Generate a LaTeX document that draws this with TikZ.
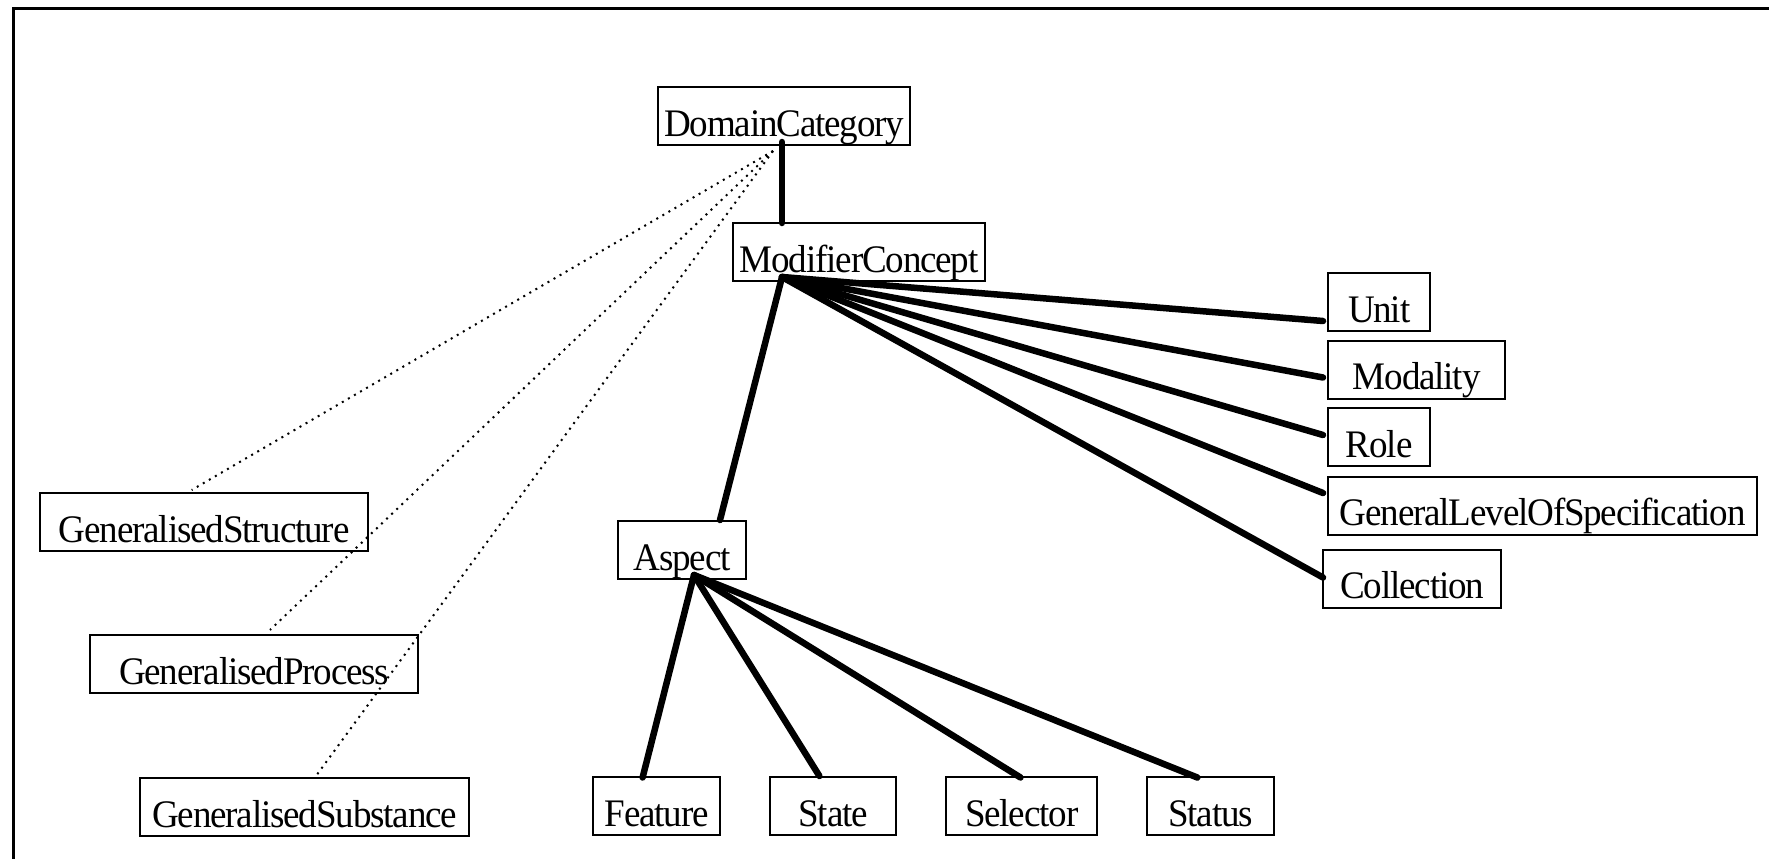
\documentclass[tikz,border=0pt]{standalone}
\usepackage{fontspec}
\setmainfont{Liberation Serif}[FakeStretch=0.95,LetterSpace=-3]
\usetikzlibrary{calc}
\begin{document}
\begin{tikzpicture}[x=1pt,y=-1pt,
  box/.style={draw,line width=2.4pt,inner sep=0pt,anchor=north west,
    minimum height=58pt,text height=49pt,text depth=9pt,
    font=\fontsize{39}{41}\selectfont},
  tree/.style={line width=6.5pt,line cap=round},
  dots/.style={line width=2pt,dash pattern=on 2pt off 5pt}]
\useasboundingbox (0,0) rectangle (1769,859);
\fill[white] (0,0) rectangle (1769,859);
% frame
\draw[line width=3pt] (13.5,870) -- (13.5,9) -- (1780,9);
% nodes
\node[box,minimum width=252pt] (dc) at (657,86) {DomainCategory};
\node[box,minimum width=252pt] (mc) at (732,222) {ModifierConcept};
\node[box,minimum width=102pt] (unit) at (1327,272) {Unit};
\node[box,minimum width=177pt] (modality) at (1327,339.5) {Modality};
\node[box,minimum width=102pt] (role) at (1327,407) {Role};
\node[box,minimum width=429pt] (glos) at (1327,475.5) {GeneralLevelOfSpecification};
\node[box,minimum width=178pt] (coll) at (1322,548.5) {Collection};
\node[box,minimum width=328pt] (gs) at (39,492) {GeneralisedStructure};
\node[box,minimum width=328pt] (gp) at (89,634) {GeneralisedProcess};
\node[box,minimum width=329pt] (gsub) at (139,777) {GeneralisedSubstance};
\node[box,minimum width=128pt] (aspect) at (617,520) {Aspect};
\node[box,minimum width=127pt] (feature) at (592,776) {Feature};
\node[box,minimum width=126pt] (state) at (769,776) {State};
\node[box,minimum width=151pt] (selector) at (945,776) {Selector};
\node[box,minimum width=127pt] (status) at (1146,776) {Status};
% attachment points
\coordinate (dcbot) at ($(dc.north west)+(125,56)$);
\coordinate (dcdot) at ($(dc.north west)+(116,65)$);
\coordinate (mcfan) at ($(mc.north west)+(50,55)$);
\coordinate (asfan) at ($(aspect.north west)+(77,55)$);
% connectors
\draw[tree] (dcbot) -- ($(mc.north west)+(50,1)$);
\draw[tree] (mcfan) -- ($(aspect.north west)+(103,0)$);
\draw[tree] (mcfan) -- ($(unit.north west)+(-4,49)$);
\draw[tree] (mcfan) -- ($(modality.north west)+(-4,38)$);
\draw[tree] (mcfan) -- ($(role.north west)+(-4,28)$);
\draw[tree] (mcfan) -- ($(glos.north west)+(-4,17.5)$);
\draw[tree] (mcfan) -- ($(coll.north west)+(1,29)$);
\draw[tree] (asfan) -- ($(feature.north west)+(50.6,1.5)$);
\draw[tree] (asfan) -- ($(state.north west)+(50.4,0)$);
\draw[tree] (asfan) -- ($(selector.north west)+(75.5,1.5)$);
\draw[tree] (asfan) -- ($(status.north west)+(51.3,1.5)$);
\draw[dots] (dcdot) -- ($(gs.north west)+(152.7,-2)$);
\draw[dots] (dcdot) -- ($(gp.north west)+(181,-4)$);
\draw[dots] (dcdot) -- ($(gsub.north west)+(177.7,-2)$);
\end{tikzpicture}
\end{document}
